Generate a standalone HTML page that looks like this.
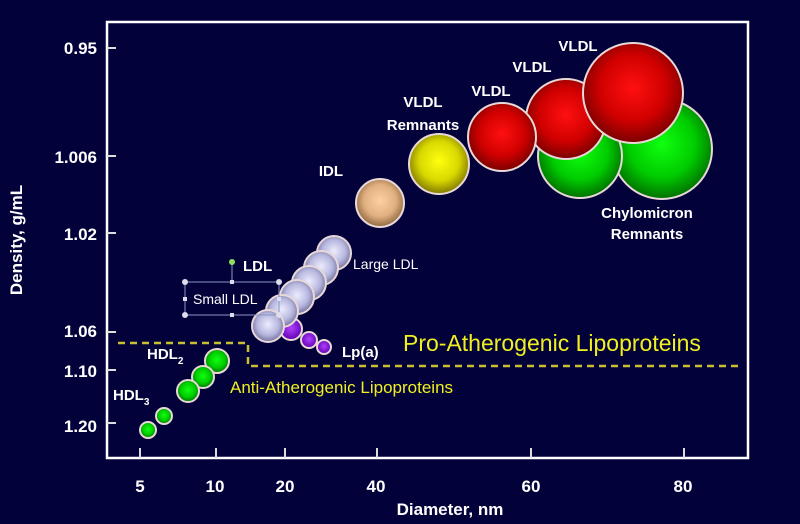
<!DOCTYPE html>
<html><head><style>
html,body{margin:0;padding:0;background:#03013a;width:800px;height:524px;overflow:hidden}
svg{display:block}
text{font-family:"Liberation Sans",Arial,sans-serif}
</style></head><body>
<svg width="800" height="524" viewBox="0 0 800 524">
<defs>
<radialGradient id="gr" cx="50%" cy="45%" r="55%"><stop offset="0" stop-color="#ff1010"/><stop offset="0.6" stop-color="#d00000"/><stop offset="1" stop-color="#7a0000"/></radialGradient>
<radialGradient id="gg" cx="50%" cy="45%" r="55%"><stop offset="0" stop-color="#10ff10"/><stop offset="0.6" stop-color="#00cc00"/><stop offset="1" stop-color="#007000"/></radialGradient>
<radialGradient id="gy" cx="50%" cy="45%" r="55%"><stop offset="0" stop-color="#ffff10"/><stop offset="0.6" stop-color="#d8d800"/><stop offset="1" stop-color="#807800"/></radialGradient>
<radialGradient id="gi" cx="50%" cy="45%" r="55%"><stop offset="0" stop-color="#ffd0a0"/><stop offset="0.6" stop-color="#e0b080"/><stop offset="1" stop-color="#906840"/></radialGradient>
<radialGradient id="gl" cx="50%" cy="45%" r="55%"><stop offset="0" stop-color="#ececff"/><stop offset="0.6" stop-color="#b8b8e0"/><stop offset="1" stop-color="#70709a"/></radialGradient>
<radialGradient id="gp" cx="50%" cy="45%" r="55%"><stop offset="0" stop-color="#b040ff"/><stop offset="1" stop-color="#6000b0"/></radialGradient>
</defs>
<rect x="107" y="22" width="641" height="436" fill="#03013a" stroke="#fff" stroke-width="2.5"/>
<g stroke="#ddd" stroke-width="2">
<line x1="107" y1="48" x2="116" y2="48"/><line x1="107" y1="156" x2="116" y2="156"/><line x1="107" y1="233" x2="116" y2="233"/><line x1="107" y1="332" x2="116" y2="332"/><line x1="107" y1="370" x2="116" y2="370"/><line x1="107" y1="423" x2="116" y2="423"/>
<line x1="140" y1="448" x2="140" y2="458"/><line x1="216" y1="448" x2="216" y2="458"/><line x1="285" y1="448" x2="285" y2="458"/><line x1="377" y1="448" x2="377" y2="458"/><line x1="531" y1="448" x2="531" y2="458"/><line x1="684" y1="448" x2="684" y2="458"/>
</g>
<g fill="#fff" font-weight="bold" font-size="17" text-anchor="end">
<text x="97" y="54">0.95</text><text x="97" y="163">1.006</text><text x="97" y="240">1.02</text><text x="97" y="337">1.06</text><text x="97" y="377">1.10</text><text x="97" y="432">1.20</text>
</g>
<g fill="#fff" font-weight="bold" font-size="17" text-anchor="middle">
<text x="140" y="492">5</text><text x="215" y="492">10</text><text x="285" y="492">20</text><text x="376" y="492">40</text><text x="531" y="492">60</text><text x="683" y="492">80</text>
<text x="450" y="515">Diameter, nm</text>
<text transform="translate(22,240) rotate(-90)">Density, g/mL</text>
</g>
<polyline points="118,343 248,343 248,366 740,366" fill="none" stroke="#c8c030" stroke-width="2.5" stroke-dasharray="7,5"/>
<g stroke="#e8d8d8" stroke-width="2">
<circle cx="662" cy="149" r="50" fill="url(#gg)"/>
<circle cx="580" cy="156" r="42" fill="url(#gg)"/>
<circle cx="566" cy="119" r="40" fill="url(#gr)"/>
<circle cx="633" cy="93" r="50" fill="url(#gr)"/>
<circle cx="502" cy="137" r="34" fill="url(#gr)"/>
<circle cx="439" cy="164" r="30" fill="url(#gy)"/>
<circle cx="380" cy="203" r="24" fill="url(#gi)"/>
<circle cx="324" cy="347" r="7" fill="url(#gp)"/>
<circle cx="309" cy="340" r="8" fill="url(#gp)"/>
<circle cx="291" cy="329" r="11" fill="url(#gp)"/>
<circle cx="334" cy="253" r="17" fill="url(#gl)"/>
<circle cx="321" cy="268" r="17" fill="url(#gl)"/>
<circle cx="309" cy="283" r="17" fill="url(#gl)"/>
<circle cx="297" cy="297" r="17" fill="url(#gl)"/>
<circle cx="282" cy="311" r="16" fill="url(#gl)"/>
<circle cx="268" cy="326" r="16" fill="url(#gl)"/>
<circle cx="217" cy="361" r="12" fill="url(#gg)"/>
<circle cx="203" cy="377" r="11" fill="url(#gg)"/>
<circle cx="188" cy="391" r="11" fill="url(#gg)"/>
<circle cx="164" cy="416" r="8" fill="url(#gg)"/>
<circle cx="148" cy="430" r="8" fill="url(#gg)"/>
</g>
<g fill="none" stroke="#8898c0" stroke-width="1">
<rect x="185" y="282" width="94" height="33"/><line x1="232" y1="262" x2="232" y2="282"/>
</g>
<circle cx="232" cy="262" r="3" fill="#90e060"/>
<g fill="#dde">
<circle cx="185" cy="282" r="3"/><circle cx="279" cy="282" r="3"/><circle cx="185" cy="315" r="3"/><circle cx="279" cy="315" r="3"/>
<rect x="230" y="280" width="4" height="4"/><rect x="230" y="313" width="4" height="4"/><rect x="183" y="297" width="4" height="4"/><rect x="277" y="297" width="4" height="4"/>
</g>
<g fill="#fff" font-weight="bold" font-size="15">
<text x="243" y="271">LDL</text>
<text x="343" y="176" text-anchor="end">IDL</text>
<text x="423" y="107" text-anchor="middle">VLDL</text><text x="423" y="130" text-anchor="middle">Remnants</text>
<text x="491" y="96" text-anchor="middle">VLDL</text>
<text x="532" y="72" text-anchor="middle">VLDL</text>
<text x="578" y="51" text-anchor="middle">VLDL</text>
<text x="647" y="218" text-anchor="middle">Chylomicron</text><text x="647" y="239" text-anchor="middle">Remnants</text>
<text x="342" y="357">Lp(a)</text>
<text x="147" y="359">HDL<tspan font-size="10" dy="5">2</tspan></text>
<text x="113" y="400">HDL<tspan font-size="10" dy="5">3</tspan></text>
</g>
<g fill="#fff" font-size="14">
<text x="353" y="269">Large LDL</text>
<text x="193" y="304">Small LDL</text>
</g>
<text x="403" y="351" fill="#f0f020" font-size="23">Pro-Atherogenic Lipoproteins</text>
<text x="230" y="393" fill="#f0f020" font-size="17">Anti-Atherogenic Lipoproteins</text>
</svg>
</body></html>
